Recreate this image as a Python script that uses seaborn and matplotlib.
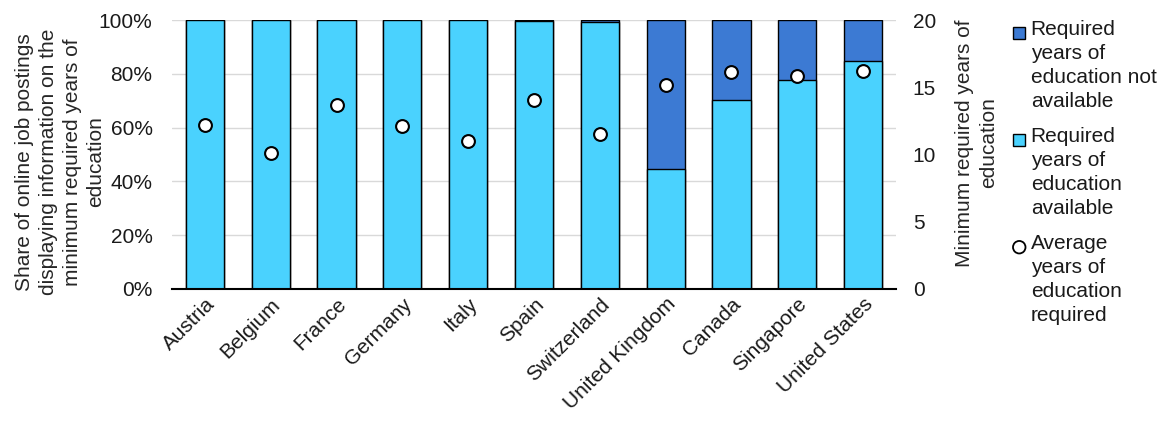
import seaborn as sns
import matplotlib
matplotlib.use("Agg")
import matplotlib.pyplot as plt
import pandas as pd
from matplotlib.patches import Patch, Rectangle, Ellipse
from matplotlib.legend_handler import HandlerPatch

countries = ["Austria", "Belgium", "France", "Germany", "Italy", "Spain",
             "Switzerland", "United Kingdom", "Canada", "Singapore", "United States"]
available = [100, 100, 100, 100, 100, 99.5, 99.3, 44.7, 70.3, 77.8, 84.9]
not_available = [100 - v for v in available]
avg_years = [12.2, 10.1, 13.7, 12.1, 11.0, 14.05, 11.5, 15.2, 16.1, 15.8, 16.2]

light = "#4AD2FE"
dark = "#3C7AD3"
fs = 15

data = pd.DataFrame({"Country": countries, "available": available,
                     "not_available": not_available, "years": avg_years})
data["total"] = data["available"] + data["not_available"]

sns.set_theme(style="white")
plt.rcParams["font.family"] = ["Liberation Sans", "DejaVu Sans"]
plt.rcParams["font.size"] = fs
plt.rcParams["text.color"] = "#1a1a1a"

fig = plt.figure(figsize=(11.67, 4.26), dpi=100)
ax = fig.add_axes([172 / 1167, 1 - 289 / 426, 724 / 1167, 269 / 426])

# stacked bars: full height dark, available part light on top
sns.barplot(data=data, x="Country", y="total", color=dark, width=0.58,
            edgecolor="black", linewidth=1.0, saturation=1, ax=ax)
sns.barplot(data=data, x="Country", y="available", color=light, width=0.58,
            edgecolor="black", linewidth=1.0, saturation=1, ax=ax)

ax.set_ylim(0, 100)
ax.set_xlim(-0.5, 10.5)
ax.set_yticks([0, 20, 40, 60, 80, 100])
ax.set_yticklabels([f"{t}%" for t in [0, 20, 40, 60, 80, 100]], fontsize=fs)
ax.yaxis.grid(True, color="#D9D9D9", linewidth=1)
ax.set_axisbelow(True)
for s in ["left", "right", "top"]:
    ax.spines[s].set_visible(False)
ax.spines["bottom"].set_color("black")
ax.spines["bottom"].set_linewidth(1.5)
ax.tick_params(axis="y", length=0, pad=14, colors="#1a1a1a")
ax.tick_params(axis="x", length=0, pad=4, colors="#1a1a1a")
ax.set_xlabel("")
ax.set_ylabel("Share of online job postings\ndisplaying information on the\nminimum required years of\neducation",
              fontsize=fs, linespacing=1.32)
ax.yaxis.set_label_coords(-0.092, 0.472)
plt.setp(ax.get_xticklabels(), rotation=45, ha="right", rotation_mode="anchor", fontsize=fs)

ax2 = ax.twinx()
sns.scatterplot(data=data, x="Country", y="years", ax=ax2, s=85,
                color="white", edgecolor="black", linewidth=1.5, zorder=5)
ax2.set_ylim(0, 20)
ax2.set_yticks([0, 5, 10, 15, 20])
ax2.tick_params(axis="y", length=0, pad=12, labelsize=fs, colors="#1a1a1a")
for s in ["left", "right", "top", "bottom"]:
    ax2.spines[s].set_visible(False)
ax2.set_ylabel("Minimum required years of\neducation", fontsize=fs, linespacing=1.32)
ax2.yaxis.set_label_coords(1.082, 0.543)


# legend keys sit next to the first line of each label
def top_square(legend, orig_handle, xdescent, ydescent, width, height, fontsize):
    sq = 8.5
    return Rectangle((-xdescent, -ydescent + height - sq + 6), sq, sq)


def top_circle(legend, orig_handle, xdescent, ydescent, width, height, fontsize):
    d = 9
    return Ellipse((-xdescent + d / 2, -ydescent + height - d / 2 + 6), d, d)


h_na = Patch(facecolor=dark, edgecolor="black", linewidth=1)
h_av = Patch(facecolor=light, edgecolor="black", linewidth=1)
h_avg = Patch(facecolor="white", edgecolor="black", linewidth=1.3)
leg = fig.legend([h_na, h_av, h_avg],
                 ["Required\nyears of\neducation not\navailable",
                  "Required\nyears of\neducation\navailable",
                  "Average\nyears of\neducation\nrequired"],
                 handler_map={h_na: HandlerPatch(patch_func=top_square),
                              h_av: HandlerPatch(patch_func=top_square),
                              h_avg: HandlerPatch(patch_func=top_circle)},
                 loc="upper left", bbox_to_anchor=(1013 / 1167, 1 - 20 / 426),
                 frameon=False, fontsize=fs, handlelength=0.6, handleheight=4.4,
                 handletextpad=0.25, labelspacing=0.75, borderaxespad=0, borderpad=0)
for t in leg.get_texts():
    t.set_linespacing(1.34)

fig.savefig("out.png", dpi=100)
